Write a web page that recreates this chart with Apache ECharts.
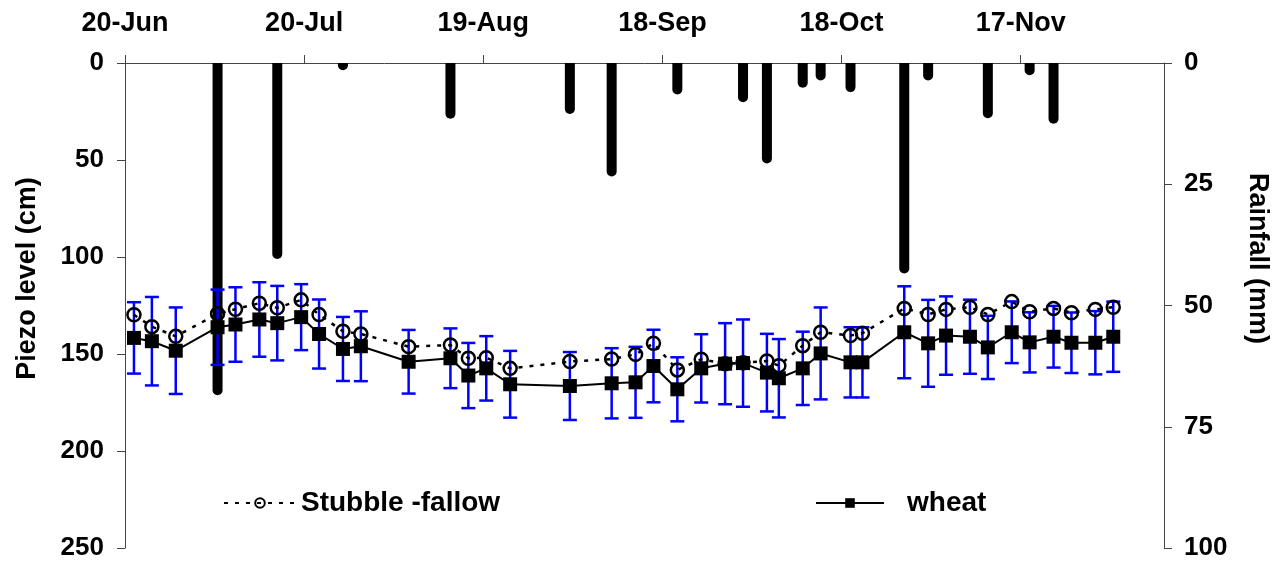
<!DOCTYPE html>
<html>
<head>
<meta charset="utf-8">
<script src="https://cdn.jsdelivr.net/npm/echarts@6/dist/echarts.min.js"></script>
<style>
  html, body { margin: 0; padding: 0; background: #fff; }
  #chart { width: 1279px; height: 562px; }
</style>
</head>
<body>
<div id="chart"></div>
<script>
// days counted from 20-Jun
const sampleDays = [1.5, 4.5, 8.5, 15.5, 18.5, 22.5, 25.5, 29.5, 32.5, 36.5, 39.5,
    47.5, 54.5, 57.5, 60.5, 64.5, 74.5, 81.5, 85.5, 88.5, 92.5, 96.5, 100.5, 103.5,
    107.5, 109.5, 113.5, 116.5, 121.5, 123.5, 130.5, 134.5, 137.5, 141.5, 144.5,
    148.5, 151.5, 155.5, 158.5, 162.5, 165.5];

const stubbleLevel = [129.8, 135.9, 140.9, 129.3, 126.9, 123.8, 126.2, 122.1, 129.7, 138.3, 139.7,
    146.2, 145.4, 152.2, 151.9, 157.4, 153.9, 152.6, 150.2, 144.5, 158.2, 152.7, 155.0, 154.5,
    153.6, 156.0, 145.7, 138.8, 140.5, 139.3, 126.5, 129.6, 127.0, 125.9, 129.6,
    123.0, 128.2, 126.5, 128.7, 127.0, 125.9];

const wheatLevel = [141.7, 143.4, 148.3, 136.2, 134.8, 132.2, 134.1, 131.0, 139.7, 147.4, 146.0,
    154.0, 152.2, 161.1, 157.4, 165.6, 166.5, 165.1, 164.6, 156.2, 168.2, 157.4, 155.0, 154.7,
    159.6, 162.5, 157.4, 149.7, 154.3, 154.3, 138.8, 144.5, 140.5, 141.1, 146.6,
    138.8, 144.0, 141.1, 144.2, 144.2, 141.1];

// half length of the blue error bars on wheat
const wheatErr = [18.4, 22.8, 22.3, 19.4, 19.2, 19.2, 19.2, 17.0, 17.8, 16.5, 18.0,
    16.4, 15.4, 16.8, 16.6, 17.2, 17.5, 18.1, 18.3, 18.7, 16.5, 17.6, 20.9, 22.5,
    20.0, 20.2, 18.9, 23.7, 18.1, 18.1, 23.7, 22.4, 20.2, 19.1, 16.3,
    15.9, 15.5, 15.9, 15.6, 16.3, 18.1];

const rainDays = [15.5, 25.5, 36.5, 54.5, 74.5, 81.5, 92.5, 103.5, 107.5, 113.5, 116.5,
    121.5, 130.5, 134.5, 144.5, 151.5, 155.5];
const rainfall = [68.5, 40.4, 1.5, 11.5, 10.5, 23.4, 6.5, 8.1, 20.7, 5.1, 3.6,
    6.0, 43.4, 3.6, 11.4, 2.5, 12.5];

const MONTHS = ['Jan', 'Feb', 'Mar', 'Apr', 'May', 'Jun', 'Jul', 'Aug', 'Sep', 'Oct', 'Nov', 'Dec'];
const START = Date.UTC(2001, 5, 20);

function dayLabel(v) {
    const d = new Date(START + Math.round(v) * 86400000);
    return d.getUTCDate() + '-' + MONTHS[d.getUTCMonth()];
}

const FONT = 'Liberation Sans';
const AXIS_COLOR = '#444';
const boldText = size => ({ fontFamily: FONT, fontWeight: 'bold', fontSize: size, color: '#000' });

const stubbleData = sampleDays.map((d, i) => [d, stubbleLevel[i]]);
const wheatData = sampleDays.map((d, i) => [d, wheatLevel[i]]);
const errData = sampleDays.map((d, i) => [d, wheatLevel[i] - wheatErr[i], wheatLevel[i] + wheatErr[i]]);
const rainData = rainDays.map((d, i) => [d, rainfall[i]]);

const chart = echarts.init(document.getElementById('chart'));

chart.setOption({
    animation: false,
    grid: { left: 125, right: 114, top: 63, bottom: 14 },
    legend: [
        {
            data: ['Stubble -fallow'],
            left: 218, top: 484,
            itemWidth: 72, itemHeight: 12,
            textStyle: boldText(28)
        },
        {
            data: ['wheat'],
            left: 810, top: 484,
            itemWidth: 68, itemHeight: 12,
            textStyle: Object.assign(boldText(28), { padding: [0, 0, 0, 18] })
        }
    ],
    xAxis: {
        type: 'value',
        position: 'top',
        min: 0,
        max: 174,
        interval: 30,
        splitLine: { show: false },
        axisLine: { show: true, onZero: false, lineStyle: { color: AXIS_COLOR, width: 1 } },
        axisTick: { show: true, inside: false, length: 8, lineStyle: { color: AXIS_COLOR } },
        axisLabel: Object.assign({
            formatter: dayLabel,
            showMaxLabel: false,
            margin: 26
        }, boldText(27))
    },
    yAxis: [
        {
            type: 'value',
            inverse: true,
            min: 0, max: 250, interval: 50,
            name: 'Piezo level (cm)',
            nameLocation: 'middle',
            nameRotate: 90,
            nameGap: 84,
            // shifted up a little, as in the original
            nameTextStyle: Object.assign(boldText(27), { padding: [0, 0, 0, 54] }),
            splitLine: { show: false },
            axisLine: { show: true, lineStyle: { color: AXIS_COLOR, width: 1 } },
            axisTick: { show: true, length: 8, lineStyle: { color: AXIS_COLOR } },
            axisLabel: Object.assign({ margin: 21 }, boldText(26))
        },
        {
            type: 'value',
            inverse: true,
            position: 'right',
            min: 0, max: 100, interval: 25,
            name: 'Rainfall (mm)',
            nameLocation: 'middle',
            nameRotate: -90,
            nameGap: 80,
            nameTextStyle: Object.assign(boldText(27), { padding: [0, 94, 0, 0] }),
            splitLine: { show: false },
            axisLine: { show: true, lineStyle: { color: AXIS_COLOR, width: 1 } },
            axisTick: { show: true, length: 8, lineStyle: { color: AXIS_COLOR } },
            axisLabel: Object.assign({ margin: 20 }, boldText(26))
        }
    ],
    series: [
        {
            name: 'Rainfall',
            type: 'bar',
            yAxisIndex: 1,
            barWidth: 10,
            z: 1,
            itemStyle: { color: '#000', borderRadius: [0, 0, 5, 5] },
            data: rainData
        },
        {
            name: 'wheat error',
            type: 'custom',
            yAxisIndex: 0,
            z: 2,
            encode: { x: 0, y: [1, 2] },
            renderItem: function (params, api) {
                const top = api.coord([api.value(0), api.value(1)]);
                const bot = api.coord([api.value(0), api.value(2)]);
                const half = 7;
                const style = { stroke: '#0000ff', lineWidth: 2.5 };
                return {
                    type: 'group',
                    children: [
                        { type: 'line', shape: { x1: top[0], y1: top[1], x2: bot[0], y2: bot[1] }, style: style },
                        { type: 'line', shape: { x1: top[0] - half, y1: top[1], x2: top[0] + half, y2: top[1] }, style: style },
                        { type: 'line', shape: { x1: bot[0] - half, y1: bot[1], x2: bot[0] + half, y2: bot[1] }, style: style }
                    ]
                };
            },
            data: errData
        },
        {
            name: 'Stubble -fallow',
            type: 'line',
            yAxisIndex: 0,
            z: 3,
            symbol: 'circle',
            symbolSize: 13,
            lineStyle: { color: '#000', width: 2.5, type: [4, 7] },
            itemStyle: { color: 'rgba(255,255,255,0)', borderColor: '#000', borderWidth: 2.5 },
            data: stubbleData
        },
        {
            name: 'wheat',
            type: 'line',
            yAxisIndex: 0,
            z: 4,
            symbol: 'rect',
            symbolSize: 14,
            lineStyle: { color: '#000', width: 2 },
            itemStyle: { color: '#000' },
            data: wheatData
        }
    ]
});
</script>
</body>
</html>
